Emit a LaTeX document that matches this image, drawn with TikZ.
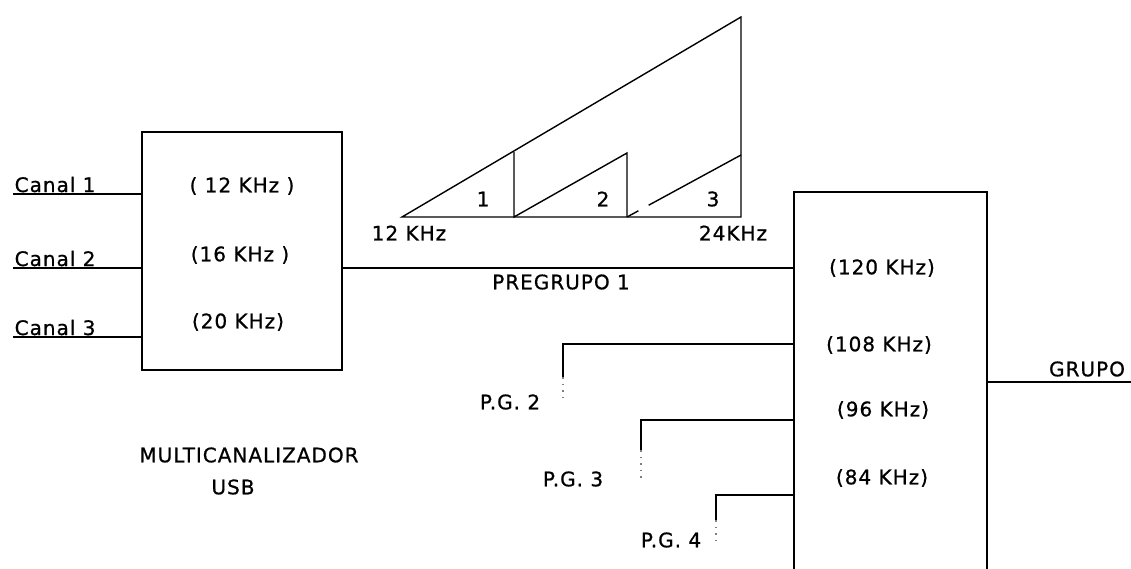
\documentclass[tikz,border=0pt]{standalone}
\usepackage{fontspec}
\setmainfont{DejaVu Sans}[LetterSpace=5,UprightFeatures={FakeBold=0.8}]
\usetikzlibrary{calc}

\begin{document}
\begin{tikzpicture}[x=1pt,y=-1pt,line width=1.4pt,
  font=\fontsize{20}{24}\selectfont,
  blk/.style={draw,inner sep=0pt},
  txt/.style={inner sep=1pt},
  stub/.style={gray,line width=1.6pt,dash pattern=on 1.5pt off 5pt}]

\useasboundingbox (0,0) rectangle (1131,569);
\clip (0,0) rectangle (1131,569);

% ---------- multicanalizador block ----------
\node[blk,minimum width=200pt,minimum height=238pt] (mux) at (242,251) {};
\node[txt] (f12) at (242,186) {( 12 KHz )};
\node[txt] (f16) at (240,255) {(16 KHz )};
\node[txt] (f20) at (238,322) {(20 KHz)};
\node[txt] (muxname) at (249,455) {MULTICANALIZADOR};
\node[txt] (muxusb) at (233,487) {USB};

% ---------- input channels ----------
\node[txt,anchor=south west] (can1) at (13,194) {Canal 1};
\node[txt,anchor=south west] (can2) at (13,268) {Canal 2};
\node[txt,anchor=south west] (can3) at (13,337) {Canal 3};
\draw (can1.south west) -- (can1.south west -| mux.west);
\draw (can2.south west) -- (can2.south west -| mux.west);
\draw (can3.south west) -- (can3.south west -| mux.west);

% ---------- grupo block ----------
\node[blk,minimum width=193pt,minimum height=416pt] (grp) at (890.5,400) {};
\node[txt] (f120) at (882,268) {(120 KHz)};
\node[txt] (f108) at (879,345) {(108 KHz)};
\node[txt] (f96) at (883,410) {(96 KHz)};
\node[txt] (f84) at (882,478) {(84 KHz)};

% ---------- pregrupo 1 link ----------
\draw (mux.east |- f120.west) -- (grp.west |- f120.west);
\node[txt] (pg1) at (561,282) {PREGRUPO 1};

% ---------- spectrum of pregrupo 1 ----------
\coordinate (s0) at (402,217);
\coordinate (s1) at (514,217);
\coordinate (s2) at (627,217);
\coordinate (s3) at (741,217);
\coordinate (top) at (741,17);
\coordinate (h1) at (514,152);
\coordinate (h2) at (627,153);
\coordinate (h3) at (741,155);
\draw (s0) -- (s3) -- (top) -- cycle;
\draw (h1) -- (s1) -- (h2) -- (s2);
\draw (s2) -- ($(s2)!0.1!(h3)$);
\draw ($(s2)!0.19!(h3)$) -- (h3);
\node[txt] (b1) at (483,199) {1};
\node[txt] (b2) at (603,199) {2};
\node[txt] (b3) at (713,199) {3};
\node[txt] (lo) at (409,233) {12 KHz};
\node[txt] (hi) at (733,233) {24KHz};

% ---------- other pregrupos ----------
\coordinate (in2) at (794,344);
\coordinate (in3) at (794,420);
\coordinate (in4) at (794,495);
\coordinate (pg2) at (563,377);
\coordinate (pg3) at (641,450);
\coordinate (pg4) at (716,520);
\draw (pg2) |- (in2);
\draw (pg3) |- (in3);
\draw (pg4) |- (in4);
\draw[stub] (pg2) -- ++(0,25);
\draw[stub] (pg3) -- ++(0,28);
\draw[stub] (pg4) -- ++(0,26);
\node[txt] (lpg2) at (510,402) {P.G. 2};
\node[txt] (lpg3) at (573,479) {P.G. 3};
\node[txt] (lpg4) at (671,540) {P.G. 4};

% ---------- grupo output ----------
\coordinate (out) at (1131,382);
\draw (grp.east |- out) -- (out);
\node[txt] (grpname) at (1087,369) {GRUPO};

\end{tikzpicture}
\end{document}
